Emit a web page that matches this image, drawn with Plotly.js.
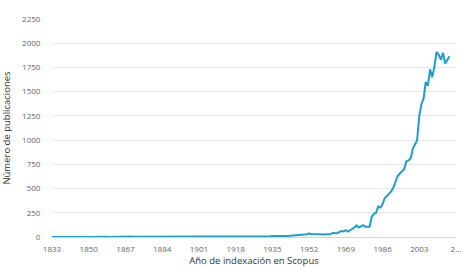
<!DOCTYPE html>
<html>
<head>
<meta charset="utf-8">
<script src="https://cdn.plot.ly/plotly-3.0.1.min.js"></script>
<style>html,body{margin:0;padding:0;background:#fff;}#chart{width:466px;height:267px;}</style>
</head>
<body>
<div id="chart"></div>
<script>
var startYear = 1833;
var publicaciones = [
  1,0,0,1,0,0,1,0,1,0,
  0,1,1,0,2,1,1,2,1,2,
  2,1,3,2,2,3,1,2,3,2,
  3,2,2,4,3,2,3,4,3,3,
  4,3,2,3,4,3,4,5,3,4,
  4,3,5,4,3,4,5,4,3,5,
  4,5,4,3,5,6,4,5,6,5,
  6,4,5,6,5,7,6,5,6,7,
  6,5,4,4,5,4,6,7,6,8,
  7,6,8,7,9,8,7,8,9,8,
  9,8,10,9,8,10,9,8,10,11,
  12,13,15,16,18,20,22,25,28,36,
  32,30,28,26,25,26,27,28,28,30,
  44,38,42,52,62,58,70,56,68,88,
  98,120,98,110,122,105,104,105,210,240,
  250,315,305,340,400,425,445,470,510,570,
  630,655,675,700,780,790,810,910,955,1000,
  1250,1370,1430,1600,1560,1730,1650,1760,1910,1880,
  1830,1900,1790,1830,1865
];
var years = publicaciones.map(function(_, i){ return startYear + i; });
var xTickVals = [1833,1850,1867,1884,1901,1918,1935,1952,1969,1986,2003,2020];
var xTickText = ["1833","1850","1867","1884","1901","1918","1935","1952","1969","1986","2003","2…"];
var yTickVals = [0,250,500,750,1000,1250,1500,1750,2000,2250];

var trace = {
  x: years, y: publicaciones, type: 'scatter', mode: 'lines',
  line: {color: '#1a9fd0', width: 2},
  cliponaxis: false, hoverinfo: 'x+y'
};
var layout = {
  width: 466, height: 267,
  margin: {l: 52, r: 10, t: 19, b: 30},
  paper_bgcolor: '#fff', plot_bgcolor: '#fff',
  showlegend: false,
  font: {family: 'Open Sans, DejaVu Sans, sans-serif', color: '#666', size: 8},
  xaxis: {
    range: [1833, 2020],
    tickvals: xTickVals, ticktext: xTickText,
    showgrid: false, zeroline: false,
    showline: true, linecolor: '#ccd6eb', linewidth: 1,
    ticks: 'outside', ticklen: 4, tickcolor: 'rgba(0,0,0,0)',
    tickfont: {size: 8, color: '#666'},
    title: {text: 'Año de indexación en Scopus', font: {size: 9.5, color: '#333'}, standoff: 6}
  },
  yaxis: {
    range: [0, 2250],
    tickvals: yTickVals,
    showgrid: true, gridcolor: '#e6e6e6', gridwidth: 1,
    zeroline: false, showline: false,
    ticks: 'outside', ticklen: 9, tickcolor: 'rgba(0,0,0,0)',
    tickfont: {size: 8, color: '#666'},
    title: {text: 'Número de publicaciones', font: {size: 9.5, color: '#333'}, standoff: 12}
  }
};
Plotly.newPlot('chart', [trace], layout, {displayModeBar: false, staticPlot: true});
</script>
</body>
</html>
